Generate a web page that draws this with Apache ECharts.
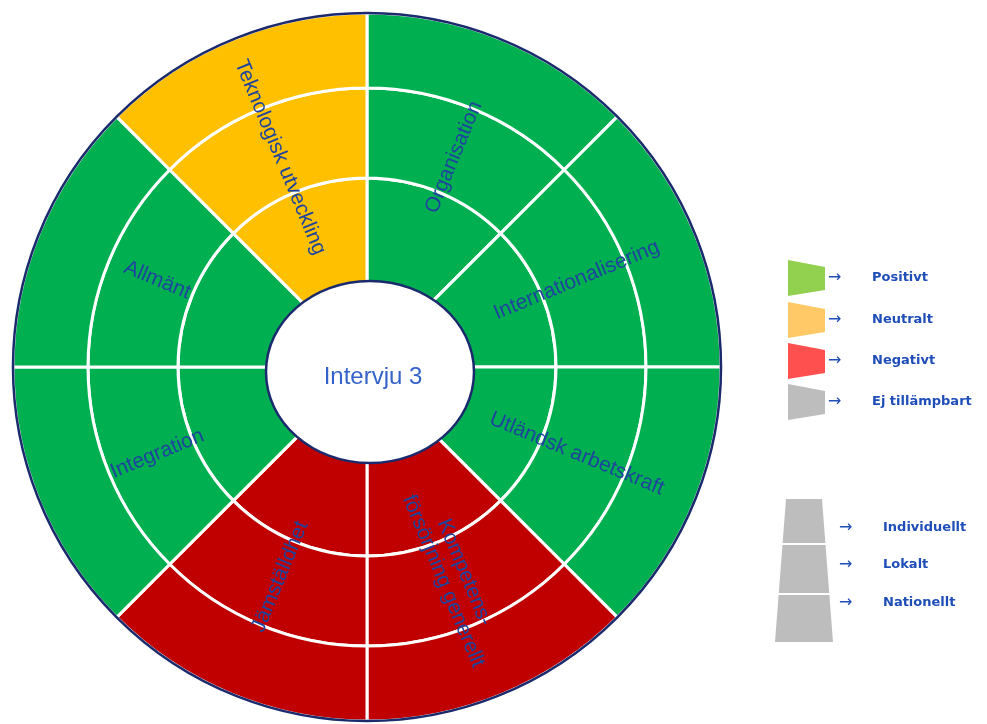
<!DOCTYPE html>
<html>
<head>
<meta charset="utf-8">
<title>Intervju 3</title>
<script src="https://cdn.jsdelivr.net/npm/echarts@6/dist/echarts.min.js"></script>
<style>
    html, body { margin:0; padding:0; background:#fff; }
    #main { width:987px; height:724px; }
</style>
</head>
<body>
<div id="main"></div>
<script type="text/javascript">
    // sektorer, medurs fran klockan 12
    var categories = ['Organisation', 'Internationalisering', 'Utländsk arbetskraft', 'Kompetens-\nförsörjning generellt',
                      'Jämställdhet', 'Integration', 'Allmänt', 'Teknologisk utveckling'];
    var weights = [1, 1, 1, 1, 1, 1, 1, 1];
    var assessment = ['Positivt', 'Positivt', 'Positivt', 'Negativt', 'Negativt', 'Positivt', 'Positivt', 'Neutralt'];
    var levels = ['Individuellt', 'Lokalt', 'Nationellt'];   // inre -> yttre ring
    var legendNames = ['Positivt', 'Neutralt', 'Negativt', 'Ej tillämpbart'];
    var sliceColors = ['#00b050', '#ffc000', '#c00000', '#bfbfbf'];
    var legendColors = ['#92d050', '#ffc967', '#ff5050', '#bdbdbd'];

    var cx = 367, cy = 367;
    var ringRadius = [80, 189, 279, 354];
    var navy = '#1a2a6c';
    var labelBlue = '#1f4eb8';

    function colorOf(a) {
        return sliceColors[legendNames.indexOf(a)];
    }

    var series = [];
    for (var i = 0; i < levels.length; i++) {
        var data = [];
        for (var k = 0; k < categories.length; k++) {
            data.push({
                name: categories[k],
                value: weights[k],
                itemStyle: { color: colorOf(assessment[k]) }
            });
        }
        series.push({
            name: levels[i],
            type: 'pie',
            silent: true,
            center: [cx, cy],
            radius: [ringRadius[i], ringRadius[i + 1]],
            startAngle: 90,
            clockwise: true,
            itemStyle: { borderColor: '#fff', borderWidth: 3 },
            label: { show: false },
            labelLine: { show: false },
            data: data
        });
    }
    // genomskinlig ring som bara bar sektornamnen
    series.push({
        name: 'namn',
        type: 'pie',
        silent: true,
        center: [cx, cy],
        radius: [179, 269],
        startAngle: 90,
        clockwise: true,
        z: 5,
        itemStyle: { color: 'rgba(0,0,0,0)', borderWidth: 0 },
        label: {
            show: true,
            position: 'inside',
            rotate: 'radial',
            color: '#1e449e',
            fontFamily: 'Liberation Sans',
            fontSize: 21,
            lineHeight: 23
        },
        labelLine: { show: false },
        data: categories.map(function (c, k) { return { name: c, value: weights[k] }; })
    });

    // legend + dekor
    var graphic = [
        { type: 'circle', z: 100, shape: { cx: cx, cy: cy, r: 354 }, style: { fill: null, stroke: navy, lineWidth: 2.5 } },
        { type: 'ellipse', z: 100, shape: { cx: 370, cy: 372, rx: 104, ry: 91 }, style: { fill: '#fff', stroke: navy, lineWidth: 2.5 } },
        { type: 'text', z: 101, x: 373, y: 377, style: { text: 'Intervju 3', fill: '#3462c8', font: '24px "Liberation Sans"', textAlign: 'center', textVerticalAlign: 'middle' } }
    ];
    var rowY = [278, 320, 361, 402];
    for (var j = 0; j < legendNames.length; j++) {
        var y = rowY[j];
        graphic.push({ type: 'polygon', shape: { points: [[788, y - 18], [825, y - 11], [825, y + 12], [788, y + 18]] }, style: { fill: legendColors[j] } });
        graphic.push({ type: 'text', x: 828, y: y, style: { text: '→', fill: labelBlue, font: '16px "DejaVu Sans"', textVerticalAlign: 'middle' } });
        graphic.push({ type: 'text', x: 872, y: y, style: { text: legendNames[j], fill: labelBlue, font: 'bold 13px "DejaVu Sans"', textVerticalAlign: 'middle' } });
    }
    // staplad niva-symbol
    var segTop = [499, 545, 595], segBot = [543, 593, 642], levelY = [528, 565, 603];
    function xAt(yy, side) {
        var t = (yy - 499) / (642 - 499);
        return side < 0 ? 786 - 11 * t : 822 + 11 * t;
    }
    for (var m = 0; m < levels.length; m++) {
        graphic.push({ type: 'polygon', shape: { points: [[xAt(segTop[m], -1), segTop[m]], [xAt(segTop[m], 1), segTop[m]],
                       [xAt(segBot[m], 1), segBot[m]], [xAt(segBot[m], -1), segBot[m]]] }, style: { fill: '#bdbdbd' } });
        graphic.push({ type: 'text', x: 839, y: levelY[m], style: { text: '→', fill: labelBlue, font: '16px "DejaVu Sans"', textVerticalAlign: 'middle' } });
        graphic.push({ type: 'text', x: 883, y: levelY[m], style: { text: levels[m], fill: labelBlue, font: 'bold 13px "DejaVu Sans"', textVerticalAlign: 'middle' } });
    }

    var chart = echarts.init(document.getElementById('main'));
    var option = {
        animation: false,
        backgroundColor: '#fff',
        series: series,
        graphic: graphic
    };
    chart.setOption(option);
</script>
</body>
</html>
